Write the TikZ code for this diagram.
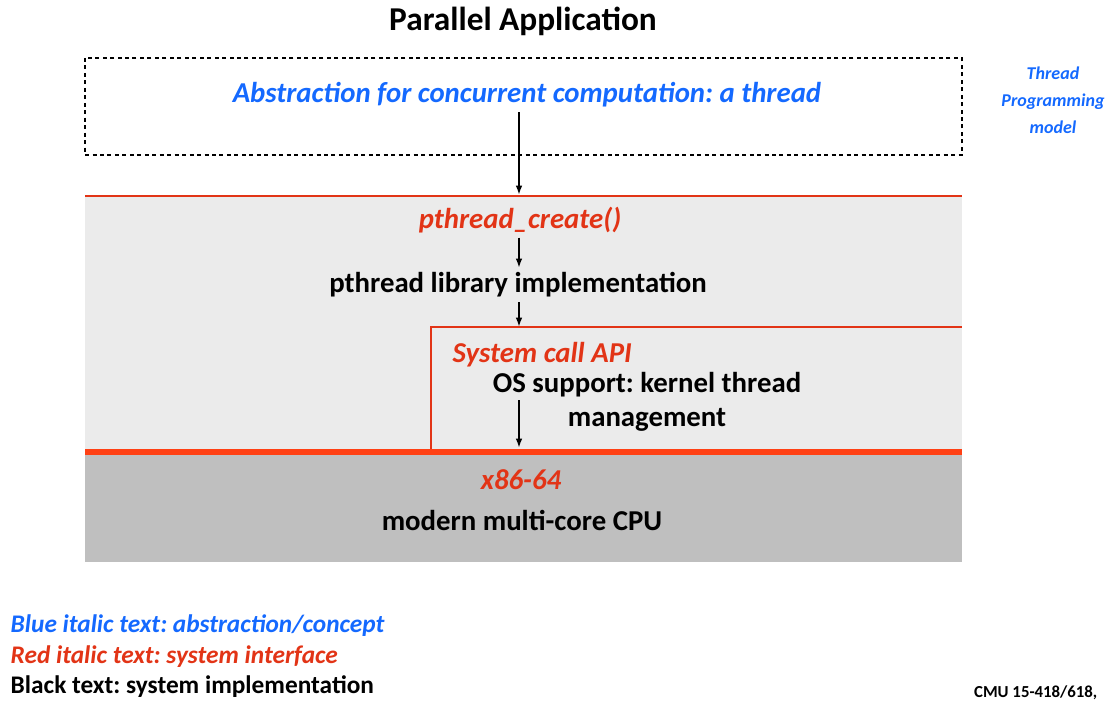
\documentclass[tikz,border=0pt]{standalone}
\usepackage{fontspec}
\setmainfont{Carlito}
\usetikzlibrary{arrows.meta}
\definecolor{conceptblue}{RGB}{20,105,255}
\definecolor{ifacered}{RGB}{226,52,22}
\definecolor{hwred}{RGB}{255,64,20}
\definecolor{swgray}{RGB}{235,235,235}
\definecolor{hwgray}{RGB}{191,191,191}
\frenchspacing
\tikzset{
  concept/.style={text=conceptblue,font=\bfseries\itshape\fontsize{21.6}{26}\selectfont},
  iface/.style={text=ifacered,font=\bfseries\itshape\fontsize{21.6}{26}\selectfont},
  impl/.style={font=\bfseries\fontsize{21.6}{25.5}\selectfont},
  legend/.style={anchor=west,font=\bfseries\fontsize{19}{22}\selectfont},
  flow/.style={-{Latex[length=7pt,width=5pt]},line width=1.4pt},
  redline/.style={ifacered,line width=2.2pt}
}
\begin{document}
\begin{tikzpicture}[x=0.75pt,y=-0.75pt]
  \useasboundingbox (0,0) rectangle (1110,706);
  % layers of the stack
  \fill[swgray] (85,196) rectangle (962,452);
  \fill[hwgray] (85,452) rectangle (962,562);
  \draw[line width=2.2pt,dash pattern=on 3pt off 2.6pt] (85,58) rectangle (962,155);
  \draw[redline] (85,196) -- (962,196);
  \draw[redline] (431,452) -- (431,327) -- (962,327);
  \draw[hwred,line width=5pt] (85,452) -- (962,452);

  \node[font=\bfseries\fontsize{25}{30}\selectfont] (title) at (523,21) {Parallel Application};
  \node[concept] (abs) at (527,95) {Abstraction for concurrent computation: a thread};
  \node[text=conceptblue,font=\bfseries\itshape\fontsize{13.5}{20.3}\selectfont,align=center] (model) at (1053,100) {Thread\\Programming\\model};

  \node[iface] (create) at (520,220) {pthread\_create()};
  \node[impl] (lib) at (518,285) {pthread library implementation};
  \node[iface,anchor=west] (sys) at (448,355) {System call API};
  \node[impl,align=center] (os) at (647,402) {OS support: kernel thread\\management};
  \node[iface] (isa) at (521,480) {x86-64};
  \node[impl] (cpu) at (522,520) {modern multi-core CPU};

  \coordinate (top) at (519,195);
  \coordinate (syscall) at (519,327);
  \coordinate (osfrom) at (519,400);
  \coordinate (hw) at (519,448);
  \draw[flow] (abs.south -| top) -- (top);
  \draw[flow] (create.south -| top) -- (lib.north -| top);
  \draw[flow] (lib.south -| top) -- (syscall);
  \draw[flow] (osfrom) -- (hw);

  \node[legend,text=conceptblue,font=\bfseries\itshape\fontsize{19}{22}\selectfont] (lgblue) at (6,626) {Blue italic text: abstraction/concept};
  \node[legend,text=ifacered,font=\bfseries\itshape\fontsize{19}{22}\selectfont] (lgred) at (6,657) {Red italic text: system interface};
  \node[legend] (lgblack) at (6,687) {Black text: system implementation};
  \node[anchor=east,font=\bfseries\fontsize{12.6}{15}\selectfont] (cmu) at (1102,693) {CMU 15-418/618,};
\end{tikzpicture}
\end{document}
